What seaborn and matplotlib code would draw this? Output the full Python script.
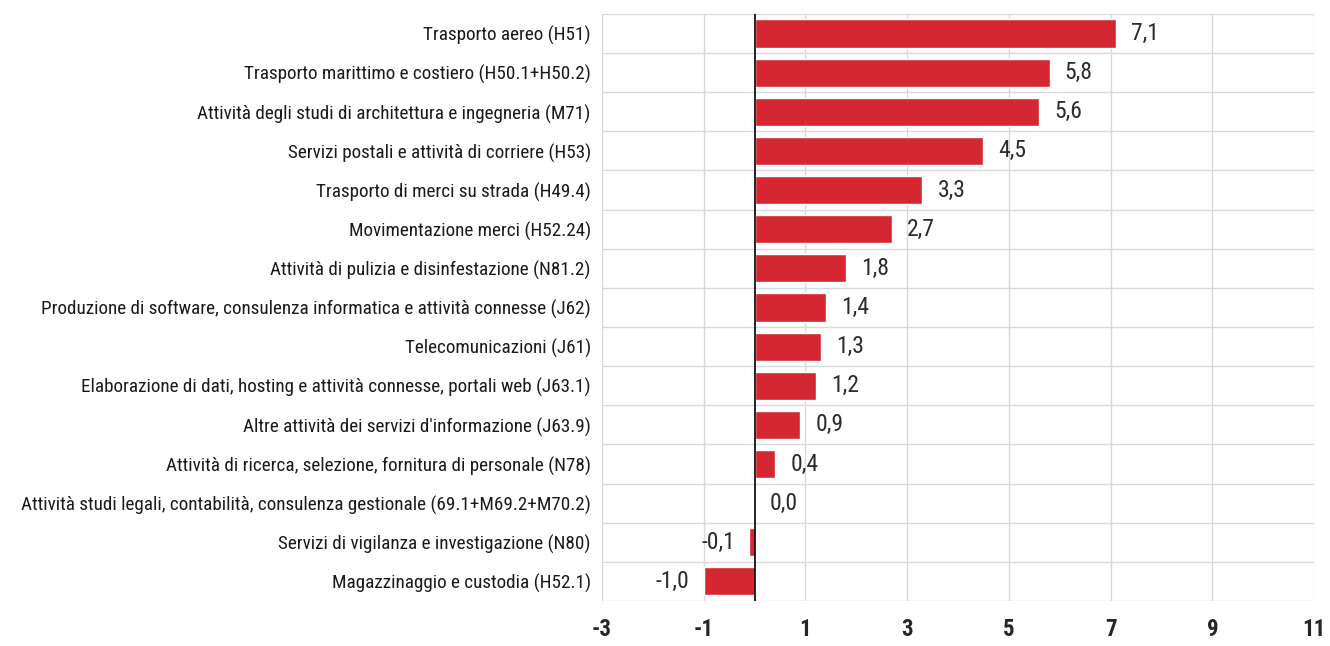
import matplotlib
matplotlib.use("Agg")
import matplotlib.pyplot as plt
import seaborn as sns
import pandas as pd

categories = [
    "Trasporto aereo (H51)",
    "Trasporto marittimo e costiero (H50.1+H50.2)",
    "Attività degli studi di architettura e ingegneria (M71)",
    "Servizi postali e attività di corriere (H53)",
    "Trasporto di merci su strada (H49.4)",
    "Movimentazione merci (H52.24)",
    "Attività di pulizia e disinfestazione (N81.2)",
    "Produzione di software, consulenza informatica e attività connesse (J62)",
    "Telecomunicazioni (J61)",
    "Elaborazione di dati, hosting e attività connesse, portali web (J63.1)",
    "Altre attività dei servizi d'informazione (J63.9)",
    "Attività di ricerca, selezione, fornitura di personale (N78)",
    "Attività studi legali, contabilità, consulenza gestionale (69.1+M69.2+M70.2)",
    "Servizi di vigilanza e investigazione (N80)",
    "Magazzinaggio e custodia (H52.1)",
]
values = [7.1, 5.8, 5.6, 4.5, 3.3, 2.7, 1.8, 1.4, 1.3, 1.2, 0.9, 0.4, 0.0, -0.1, -1.0]
x_ticks = [-3, -1, 1, 3, 5, 7, 9, 11]

df = pd.DataFrame({"categoria": categories, "valore": values})

sns.set_theme(style="white")
plt.rcParams['font.family'] = ['Roboto Condensed', 'Liberation Sans Narrow', 'Liberation Sans', 'DejaVu Sans']

fig = plt.figure(figsize=(13.3, 6.46), dpi=100)
ax = fig.add_axes([0.4526, 0.0697, 0.5354, 0.9087])

sns.barplot(data=df, x="valore", y="categoria", orient="h", color="#d42732",
            saturation=1, width=0.72, ax=ax, zorder=3)

ax.set_xlim(-3, 11)
ax.set_xticks(x_ticks)
ax.set_xticklabels([str(t) for t in x_ticks], fontsize=16.5, fontweight="bold")
ax.set_ylim(len(categories) - 0.5, -0.5)
ax.set_yticks(range(len(categories)))
ax.set_yticklabels(categories, fontsize=13.8, color="#1a1a1a")
ax.tick_params(axis="both", length=0)
ax.tick_params(axis="y", pad=8)
ax.tick_params(axis="x", pad=12)
ax.set_xlabel("")
ax.set_ylabel("")

# grid: verticals on ticks, horizontals between categories
for t in x_ticks:
    ax.axvline(t, color="#d9d9d9", lw=1, zorder=0)
for b in range(len(categories) + 1):
    ax.axhline(b - 0.5, color="#d9d9d9", lw=1, zorder=0)
ax.axvline(0, color="black", lw=1.2, zorder=4)
for s in ax.spines.values():
    s.set_visible(False)

for i, v in enumerate(values):
    txt = f"{v:.1f}".replace(".", ",")
    if v < 0:
        ax.text(v - 0.28, i, txt, ha="right", va="center", fontsize=17, color="#2b2b2b")
    else:
        ax.text(v + 0.3, i, txt, ha="left", va="center", fontsize=17, color="#2b2b2b")

fig.savefig("out.png", dpi=100)
